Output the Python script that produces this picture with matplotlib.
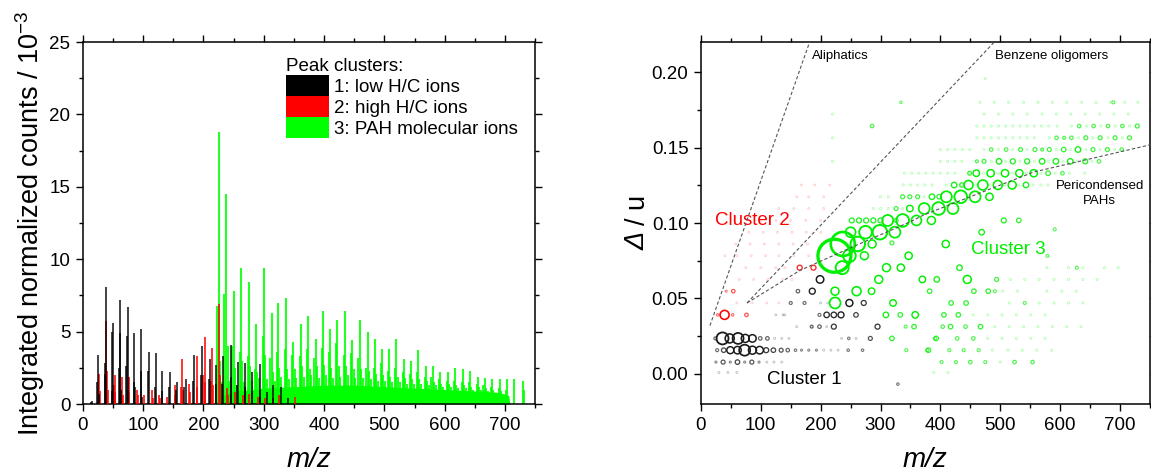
import matplotlib
matplotlib.use("Agg")
import matplotlib.pyplot as plt
from matplotlib.patches import Patch
from matplotlib.ticker import MultipleLocator, FormatStrFormatter

plt.rcParams['font.family'] = ['Liberation Sans', 'DejaVu Sans']
plt.rcParams['mathtext.fontset'] = 'custom'
plt.rcParams['mathtext.rm'] = 'Liberation Sans'
plt.rcParams['mathtext.it'] = 'Liberation Sans:italic'

# ---------------- left panel: peak-cluster spectrum (counts / 1e-3) ----------------
black_mz = [13, 15, 24, 25, 26, 36, 37, 38, 48, 49, 50, 60, 61, 62, 63, 72, 73, 74, 75,
            84, 85, 86, 96, 97, 98, 108, 109, 120, 121, 131, 132, 143, 144, 155, 156,
            168, 171, 183, 184, 196, 198, 209, 210, 220, 221, 231, 233, 245, 246, 256,
            257, 268, 269, 280, 281, 293, 294, 305, 316, 328, 340]
black_h = [0.15, 0.2, 1.5, 3.4, 0.7, 2.1, 2.8, 8.1, 0.9, 5.0, 5.6, 2.5, 4.9, 7.2, 1.0,
           2.6, 4.7, 6.7, 1.0, 1.5, 4.9, 1.2, 2.3, 5.2, 0.5, 2.3, 3.6, 1.2, 3.5, 0.9,
           2.3, 1.2, 2.2, 1.0, 1.5, 1.2, 1.7, 1.6, 3.4, 2.0, 4.0, 1.7, 3.1, 1.4, 2.7,
           1.4, 3.3, 1.9, 4.1, 1.3, 2.9, 1.2, 2.8, 0.9, 2.2, 1.0, 2.75, 0.8, 1.3, 1.2, 0.4]

red_mz = [26, 27, 28, 39, 40, 41, 51, 53, 54, 63, 65, 66, 76, 77, 89, 91, 102, 115, 116,
          126, 128, 139, 152, 153, 163, 165, 166, 176, 178, 189, 190, 200, 202, 203, 212,
          214, 215, 226, 227, 239, 240, 252, 265, 276, 290, 302, 315, 326, 352]
red_h = [0.5, 2.1, 0.9, 5.7, 2.3, 1.0, 1.3, 2.0, 0.8, 1.0, 1.9, 0.6, 1.9, 0.8, 1.0, 0.6,
         0.6, 1.0, 0.4, 0.6, 0.4, 0.5, 1.3, 0.6, 1.2, 3.1, 1.0, 1.4, 0.8, 3.3, 1.2, 2.0,
         4.6, 1.5, 1.6, 3.9, 1.3, 6.9, 2.0, 1.1, 0.6, 0.8, 0.6, 0.7, 0.5, 0.4, 0.4, 0.6, 0.5]

green_mz = [222, 226, 228, 230, 234, 238, 240, 243, 248, 250, 252, 255, 260, 262, 264, 267,
            273, 275, 277, 280, 285, 287, 289, 292, 298, 300, 302, 305, 311, 313, 315, 318,
            322, 324, 326, 329, 335, 337, 339, 342, 347, 349, 351, 354, 360, 362, 364, 367,
            372, 374, 376, 379, 384, 386, 388, 391, 396, 398, 400, 403, 408, 410, 412, 415,
            420, 422, 424, 427, 433, 435, 437, 440, 445, 447, 449, 452, 457, 459, 461, 464,
            470, 472, 474, 477, 482, 484, 486, 489, 494, 496, 498, 501, 506, 508, 510, 513,
            518, 520, 522, 525, 530, 532, 534, 537, 542, 544, 546, 549, 554, 556, 558, 561,
            567, 569, 571, 574, 578, 580, 582, 585, 590, 592, 594, 597, 603, 605, 607, 610,
            615, 617, 619, 622, 628, 630, 632, 635, 640, 642, 644, 647, 653, 655, 657, 660,
            664, 666, 668, 671, 676, 678, 680, 690, 692, 694, 701, 703, 715, 729, 731]
green_h = [6.8, 18.8, 3.0, 1.5, 7.6, 14.5, 4.0, 1.6, 4.0, 7.8, 2.5, 1.3, 3.6, 9.4, 3.0, 1.5,
           3.3, 8.4, 2.6, 1.6, 2.4, 5.5, 2.2, 1.8, 4.7, 9.4, 3.4, 1.7, 3.2, 6.3, 2.2, 1.6,
           3.6, 7.0, 2.5, 1.9, 3.8, 7.3, 2.4, 1.7, 3.4, 4.3, 2.4, 1.8, 3.3, 5.5, 2.6, 1.9,
           3.8, 6.1, 2.4, 2.0, 3.2, 4.5, 2.6, 1.8, 3.9, 6.4, 2.7, 2.0, 3.6, 5.2, 2.5, 1.8,
           4.2, 5.8, 2.6, 1.9, 3.4, 6.4, 2.6, 2.0, 3.5, 4.4, 2.4, 1.8, 3.2, 5.8, 2.4, 1.8,
           2.5, 5.0, 2.3, 1.7, 2.5, 4.5, 2.1, 1.6, 2.8, 3.8, 2.0, 1.6, 2.3, 3.8, 1.9, 1.5,
           2.5, 4.5, 1.9, 1.5, 2.2, 3.1, 1.8, 1.4, 2.1, 3.0, 1.7, 1.4, 2.2, 3.7, 1.7, 1.4,
           1.9, 2.6, 1.6, 1.3, 1.9, 2.6, 1.5, 1.3, 1.7, 2.2, 1.4, 1.2, 1.6, 2.2, 1.4, 1.2,
           1.6, 2.5, 1.3, 1.1, 1.5, 2.4, 1.3, 1.1, 1.5, 2.3, 1.2, 1.0, 1.4, 1.9, 1.2, 1.0,
           1.3, 1.8, 1.1, 0.9, 1.2, 1.7, 1.0, 1.1, 1.7, 0.9, 1.0, 1.7, 1.7, 1.6, 1.0]

# unresolved PAH continuum under the peaks
green_base_mz = [226, 250, 280, 300, 350, 400, 450, 500, 550, 600, 650, 690, 706, 708]
green_base_h = [0.5, 0.9, 1.0, 1.1, 1.2, 1.3, 1.3, 1.2, 1.1, 1.0, 0.9, 0.8, 0.6, 0.0]

legend_title = "Peak clusters:"
legend_labels = ["1: low H/C ions", "2: high H/C ions", "3: PAH molecular ions"]

# ---------------- right panel: mass defect plot, circle diameter in px ----------------
c1_mz = [24, 36, 48, 62, 74, 86, 99, 111,
         27, 38, 49, 61, 73, 86, 98, 109, 121, 134, 145, 158, 168, 180, 193,
         25, 37, 49, 61, 73, 85, 97,
         185, 198, 222, 295,
         198, 210, 222, 234, 259,
         150, 173, 248, 272,
         162, 186,
         199,
         247, 283, 246, 270, 329]
c1_delta = [0.0235, 0.0235, 0.0235, 0.0235, 0.0235, 0.0235, 0.0235, 0.0235,
            0.0157, 0.0157, 0.0157, 0.0157, 0.0157, 0.0157, 0.0157, 0.0157, 0.0157,
            0.0157, 0.0157, 0.0157, 0.0157, 0.0157, 0.0157,
            0.0078, 0.0078, 0.0078, 0.0078, 0.0078, 0.0078, 0.0078,
            0.0313, 0.0313, 0.0313, 0.0313,
            0.0391, 0.0391, 0.0391, 0.0391, 0.0391,
            0.0470, 0.0470, 0.0470, 0.0470,
            0.0548, 0.0548,
            0.0626,
            0.0235, 0.0235, 0.0157, 0.0157, -0.0068]
c1_size = [3, 12, 9, 11, 8, 7.5, 3.5, 3.5,
           3, 4.5, 7, 7.5, 11, 8, 7.5, 5, 4.5, 4, 3.5, 2.5, 2, 2, 2,
           2, 4, 2, 4.5, 2, 4, 2,
           3, 3.5, 5, 5,
           3, 5.5, 5.5, 6, 4.5,
           3, 3, 7, 5,
           3.5, 6,
           7.5,
           2.5, 4, 2.5, 2.5, 2.5]

c2_mz = [28, 39.5, 53, 76, 42, 54, 165, 188]
c2_delta = [0.0391, 0.0391, 0.0391, 0.0391, 0.0548, 0.0548, 0.0704, 0.0704]
c2_size = [2.5, 9, 2.5, 3.5, 2, 3.5, 5, 5]

c3_mz = [309, 333, 358, 406, 430,
         224, 321, 418, 443,
         224, 260, 285, 382, 456, 480,
         297, 370, 394, 445, 494,
         236, 310, 334, 432,
         223, 248, 273, 347,
         237, 262, 286, 409,
         250, 275, 299, 324, 469,
         252, 264, 276, 288, 300, 312, 337, 360, 385, 506, 531,
         326, 349, 373, 397, 421,
         326, 337, 349, 362, 386, 410, 434, 458, 482,
         398, 423, 447, 471, 496, 520, 543,
         436, 460, 484, 508, 532, 556, 580, 604,
         449, 473, 498, 521, 545, 570, 593, 617, 642, 665,
         461, 485, 510, 534, 558, 582, 606, 630, 655, 679, 703,
         570, 594, 619, 643, 667, 692, 716,
         607, 632, 656, 680, 704, 729,
         286, 334,
         689, 591, 579, 628,
         319, 342, 356, 319, 343, 380, 393, 417, 442, 467, 404, 428, 455,
         391, 415, 439, 464, 378, 402, 426, 450, 475, 524, 554, 491, 541]
c3_delta = [0.0391, 0.0391, 0.0391, 0.0391, 0.0391,
            0.0470, 0.0470, 0.0470, 0.0470,
            0.0548, 0.0548, 0.0548, 0.0548, 0.0548, 0.0548,
            0.0626, 0.0626, 0.0626, 0.0626, 0.0626,
            0.0704, 0.0704, 0.0704, 0.0704,
            0.0783, 0.0783, 0.0783, 0.0783,
            0.0861, 0.0861, 0.0861, 0.0861,
            0.0939, 0.0939, 0.0939, 0.0939, 0.0939,
            0.1017, 0.1017, 0.1017, 0.1017, 0.1017, 0.1017, 0.1017, 0.1017, 0.1017,
            0.1017, 0.1017, 0.1017,
            0.1096, 0.1096, 0.1096, 0.1096, 0.1096,
            0.1174, 0.1174, 0.1174, 0.1174, 0.1174, 0.1174, 0.1174, 0.1174, 0.1174,
            0.1252, 0.1252, 0.1252, 0.1252, 0.1252, 0.1252, 0.1252,
            0.1330, 0.1330, 0.1330, 0.1330, 0.1330, 0.1330, 0.1330, 0.1330,
            0.1409, 0.1409, 0.1409, 0.1409, 0.1409, 0.1409, 0.1409, 0.1409, 0.1409, 0.1409,
            0.1487, 0.1487, 0.1487, 0.1487, 0.1487, 0.1487, 0.1487, 0.1487, 0.1487, 0.1487,
            0.1487,
            0.1565, 0.1565, 0.1565, 0.1565, 0.1565, 0.1565, 0.1565,
            0.1643, 0.1643, 0.1643, 0.1643, 0.1643, 0.1643,
            0.1800, 0.1800,
            0.0958, 0.0783, 0.0704, 0.0868,
            0.0313, 0.0313, 0.0235, 0.0157, 0.0157, 0.0235, 0.0313, 0.0313, 0.0313,
            0.0313, 0.0235, 0.0235, 0.0235,
            0.0157, 0.0157, 0.0157, 0.0157, 0.0078, 0.0078, 0.0078, 0.0078, 0.0078,
            0.0078, 0.0548, 0.0470, 0.0470]
c3_size = [5.5, 4.5, 6.5, 4.5, 4.5,
           11, 6.5, 4.5, 4.5,
           8, 9, 6.5, 4.5, 4.5, 4.5,
           8, 6.5, 5.5, 8, 4,
           13, 8, 7.3, 5.5,
           33, 12.7, 8, 7.3,
           24, 14.5, 8, 7.3,
           10, 12.7, 14.5, 11, 5.5,
           5, 5, 5, 5, 5, 11, 12.7, 10, 8, 5, 4.5,
           4, 6.5, 11, 12.7, 11,
           4, 4, 4, 4, 5.5, 11, 12.7, 11, 7.3,
           4.5, 5.5, 9, 10, 9, 8, 5.5,
           4.5, 6.5, 7.3, 7.3, 7.3, 7.3, 4.5, 3.5,
           4, 4, 5.5, 5, 5, 5.5, 5.5, 5.5, 5, 3.5,
           3, 3.5, 3.5, 4, 4, 4, 4.5, 5.5, 4, 4, 3.5,
           3, 3.5, 3.5, 4, 4, 4, 4,
           3, 3.5, 3.5, 3.5, 3.5, 4,
           3.5, 2.5,
           3, 3, 3, 3,
           4, 3, 4.5, 4.5, 3, 4.5, 4.5, 4.5, 3.5,
           4.5, 3.5, 3.5, 3.5,
           3, 3, 3, 3, 3, 3, 3, 3.5, 3, 3.5, 3.5, 3, 3]

# faint (very low count) formulas, drawn as tiny pale dots
faint_green_mz = [466, 490, 514, 539, 563, 587, 611, 636, 660, 684, 708, 730,
                  473, 497, 521, 545, 570, 594, 618, 642, 666, 690, 714,
                  461, 473, 485, 497, 509, 521, 533, 545, 557, 569, 581, 595, 619, 644, 668, 692, 716,
                  461, 473, 485, 497, 509, 521, 533, 545, 557, 582, 606, 631, 655, 680, 704,
                  400, 412, 424, 437, 449, 473, 497, 521, 545, 570, 594, 618, 643, 667, 691,
                  400, 412, 424, 436, 460, 485, 509, 533, 557, 581, 605, 629, 653,
                  340, 352, 364, 376, 388, 400, 412, 424, 448, 472, 496, 520, 544, 568, 592, 616, 641,
                  338, 350, 362, 374, 386, 410, 435, 459, 483, 507, 531, 555, 568, 580,
                  300, 313, 373, 288, 300, 313, 337,
                  578, 614, 638, 674, 697,
                  517, 541, 565, 590, 614, 638, 662,
                  504, 529, 578, 603, 627,
                  515, 565, 590, 614, 638,
                  455, 479, 503, 527, 551, 575,
                  491, 515, 539, 563, 587, 611, 635,
                  479, 503, 527, 551, 575,
                  487, 513, 537, 561, 586,
                  500, 389, 413, 475, 220, 220, 220]
faint_green_delta = [0.1800] * 12 + [0.1722] * 11 + [0.1643] * 17 + [0.1565] * 15 + \
                    [0.1487] * 15 + [0.1409] * 13 + [0.1330] * 17 + [0.1252] * 14 + \
                    [0.1174] * 3 + [0.1096] * 4 + [0.0704] * 5 + [0.0626] * 7 + \
                    [0.0548] * 5 + [0.0470] * 5 + [0.0391] * 6 + [0.0313] * 7 + \
                    [0.0235] * 5 + [0.0157] * 5 + \
                    [0.0078, 0.0009, 0.0009, 0.1958, 0.1722, 0.1565, 0.1409]

faint_red_mz = [60, 85, 110, 130,
                64, 88, 112, 137, 152,
                75, 100, 125, 140,
                40, 60, 84, 108, 130, 155, 180,
                58, 82, 106, 130, 154, 178, 202,
                80, 104, 128, 152, 176, 200,
                100, 125, 150, 175, 200,
                130, 155, 180, 205,
                160, 180, 205,
                168, 190, 215]
faint_red_delta = [0.0470] * 4 + [0.0626] * 5 + [0.0704] * 4 + [0.0783] * 7 + \
                  [0.0861] * 7 + [0.0939] * 6 + [0.1017] * 5 + [0.1096] * 4 + \
                  [0.1174] * 3 + [0.1252] * 3

faint_black_mz = [123, 135, 147, 205, 217, 229, 110, 122, 135, 160, 185, 210, 30, 45, 60,
                  140, 200, 212, 125, 137, 235, 259]
faint_black_delta = [0.0235, 0.0235, 0.0235, 0.0157, 0.0157, 0.0157, 0.0078, 0.0078,
                     0.0078, 0.0313, 0.0313, 0.0313, 0.0009, 0.0009, 0.0009,
                     0.0391, 0.0470, 0.0470, 0.0391, 0.0391, 0.0235, 0.0235]

# guide lines (m/z, delta)
aliph_mz = [15, 182]
aliph_delta = [0.032, 0.2205]
benz_mz = [77, 489]
benz_delta = [0.047, 0.2195]
peri_mz = [77, 165, 265, 348, 373, 556, 750]
peri_delta = [0.047, 0.0685, 0.0862, 0.1005, 0.1055, 0.1338, 0.1518]


def px_to_s(diams):
    # circle diameter in pixels (dpi 100) -> scatter area in pt^2
    return [(d * 0.72) ** 2 for d in diams]


def circles(ax, mz, delta, diam, color):
    for m, d, s in zip(mz, delta, diam):
        alpha = min(1.0, 0.3 + s / 9.0)
        ax.scatter([m], [d], s=px_to_s([s]), facecolors='none', edgecolors=color,
                   linewidths=0.7 + s * 0.05, alpha=alpha, zorder=3)


def style_axes(ax):
    for sp in ax.spines.values():
        sp.set_linewidth(1.1)
    ax.tick_params(which='both', direction='out', top=True, right=True,
                   labeltop=False, labelright=False, width=1.0, labelsize=13.5, pad=4)
    ax.tick_params(which='major', length=5)
    ax.tick_params(which='minor', length=3)


def draw_spectrum(ax):
    ax.fill_between(green_base_mz, 0, green_base_h, color='#00ff00', lw=0, zorder=1)
    ax.vlines(green_mz, 0, green_h, color='#00ff00', lw=1.5, alpha=0.85, zorder=2)
    ax.vlines(red_mz, 0, red_h, color='#ff0000', lw=1.4, alpha=0.8, zorder=3)
    ax.vlines(black_mz, 0, black_h, color='#000000', lw=1.3, alpha=0.8, zorder=4)

    ax.set_xlim(0, 750)
    ax.set_ylim(0, 25)
    ax.xaxis.set_major_locator(MultipleLocator(100))
    ax.xaxis.set_minor_locator(MultipleLocator(50))
    ax.yaxis.set_major_locator(MultipleLocator(5))
    ax.yaxis.set_minor_locator(MultipleLocator(2.5))
    style_axes(ax)
    ax.set_xlabel("m/z", fontsize=20, fontstyle='italic', labelpad=10)
    ax.set_ylabel("Integrated normalized counts / 10$^{-3}$", fontsize=19.5, labelpad=2)

    handles = [Patch(facecolor=c, edgecolor='none') for c in ['#000000', '#ff0000', '#00ff00']]
    leg = ax.legend(handles, legend_labels, title=legend_title, loc='upper left',
                    bbox_to_anchor=(0.448, 0.955), frameon=False, fontsize=13.5,
                    title_fontsize=13.5, handlelength=2.3, handleheight=1.35,
                    labelspacing=0.0, handletextpad=0.3, borderpad=0, borderaxespad=0,
                    alignment='left')
    return leg


def draw_defect(fig, ax):
    ax.scatter(faint_green_mz, faint_green_delta, s=px_to_s([2.2]), facecolors='none',
               edgecolors='#00ff00', linewidths=0.6, alpha=0.3, zorder=2)
    ax.scatter(faint_red_mz, faint_red_delta, s=px_to_s([2.0]), facecolors='none',
               edgecolors='#ff0000', linewidths=0.6, alpha=0.2, zorder=2)
    ax.scatter(faint_black_mz, faint_black_delta, s=px_to_s([2.0]), facecolors='none',
               edgecolors='#000000', linewidths=0.6, alpha=0.25, zorder=2)
    circles(ax, c1_mz, c1_delta, c1_size, '#1a1a1a')
    circles(ax, c2_mz, c2_delta, c2_size, '#ff0000')
    circles(ax, c3_mz, c3_delta, c3_size, '#00f000')

    dash = dict(color='#555555', lw=0.8, ls=(0, (3, 2)), zorder=4)
    ax.plot(aliph_mz, aliph_delta, **dash)
    ax.plot(benz_mz, benz_delta, **dash)
    ax.plot(peri_mz, peri_delta, **dash)

    ax.text(186, 0.2105, "Aliphatics", fontsize=9.5, va='center', ha='left')
    ax.text(491, 0.2105, "Benzene oligomers", fontsize=9.5, va='center', ha='left')
    ax.text(666, 0.1195, "Pericondensed\nPAHs", fontsize=9.5, va='center', ha='center',
            linespacing=1.35)
    ax.text(23, 0.1017, "Cluster 2", fontsize=13.5, color='#ff0000', va='center')
    ax.text(451, 0.0825, "Cluster 3", fontsize=13.5, color='#00ee00', va='center')
    ax.text(110, -0.0035, "Cluster 1", fontsize=13.5, color='#000000', va='center')

    ax.set_xlim(0, 750)
    ax.set_ylim(-0.02, 0.22)
    ax.xaxis.set_major_locator(MultipleLocator(100))
    ax.xaxis.set_minor_locator(MultipleLocator(50))
    ax.yaxis.set_major_locator(MultipleLocator(0.05))
    ax.yaxis.set_minor_locator(MultipleLocator(0.025))
    ax.yaxis.set_major_formatter(FormatStrFormatter('%.2f'))
    style_axes(ax)
    ax.set_xlabel("m/z", fontsize=20, fontstyle='italic', labelpad=10)

    # y label: italic Delta followed by upright "/ u"
    fig.text(0.554, 0.489, "Δ", fontsize=19.5, fontstyle='italic', rotation=90,
             ha='center', va='center')
    fig.text(0.554, 0.556, "/ u", fontsize=19.5, rotation=90, ha='center', va='center')


def main():
    fig = plt.figure(figsize=(11.51, 4.72), dpi=100)
    ax1 = fig.add_axes([0.072, 0.144, 0.393, 0.767])
    ax2 = fig.add_axes([0.609, 0.144, 0.390, 0.767])
    draw_spectrum(ax1)
    draw_defect(fig, ax2)
    fig.savefig("out.png", dpi=100)


if __name__ == "__main__":
    main()
